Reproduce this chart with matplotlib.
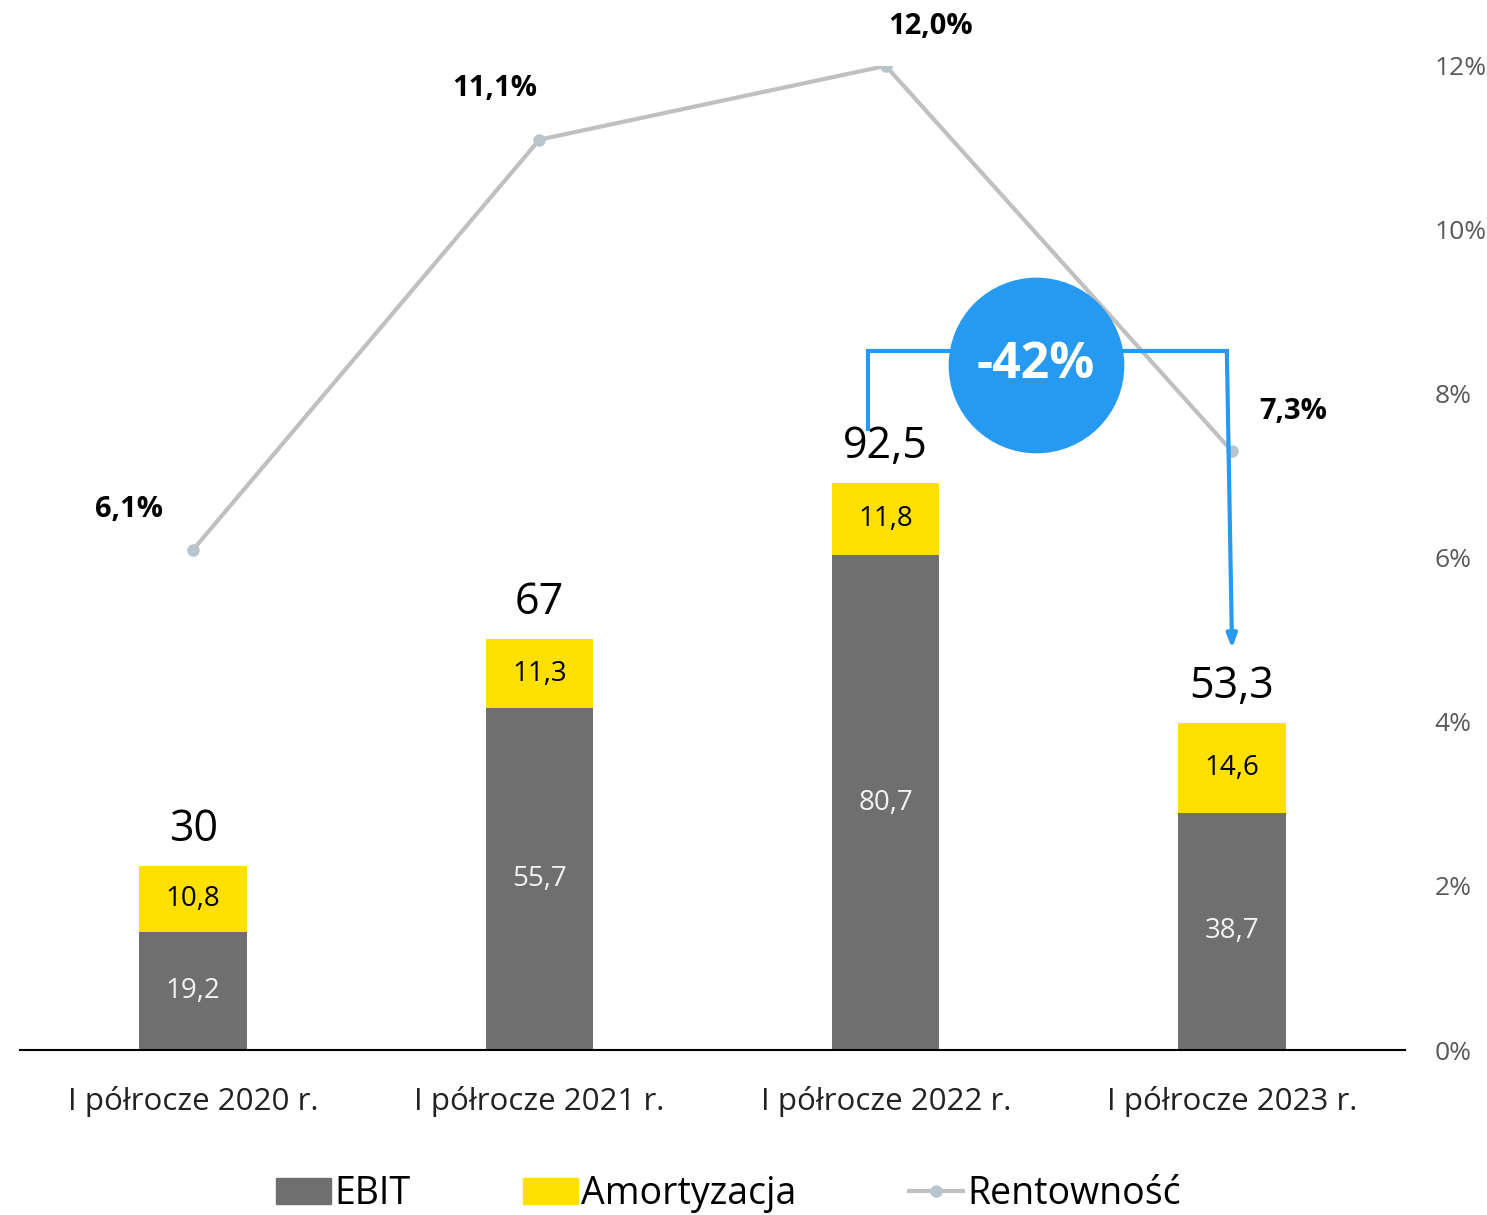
import matplotlib
matplotlib.use("Agg")
import matplotlib.pyplot as plt
from matplotlib.patches import Patch
from matplotlib.lines import Line2D

plt.rcParams['font.family'] = ['Open Sans', 'DejaVu Sans']

# dane
okresy = ["I półrocze 2020 r.", "I półrocze 2021 r.", "I półrocze 2022 r.", "I półrocze 2023 r."]
ebit = [19.2, 55.7, 80.7, 38.7]
amort = [10.8, 11.3, 11.8, 14.6]
suma = [30, 67, 92.5, 53.3]
suma_txt = ["30", "67", "92,5", "53,3"]
rentownosc = [6.1, 11.1, 12.0, 7.3]
rent_txt = ["6,1%", "11,1%", "12,0%", "7,3%"]
zmiana_txt = "-42%"

SZARY = "#6f6f6f"
ZOLTY = "#ffe000"
LINIA = "#c0c0c0"
NIEBIESKI = "#2699f0"

fig = plt.figure(figsize=(14.87, 12.15), dpi=100)
ax = fig.add_axes([0.0134, 0.1358, 0.9316, 0.81])
ax2 = ax.twinx()

x = list(range(len(okresy)))
w = 0.31
ax.bar(x, ebit, width=w, color=SZARY, zorder=2)
ax.bar(x, amort, width=w, bottom=ebit, color=ZOLTY, zorder=2)

for i in x:
    ax.text(i, ebit[i] / 2, f"{ebit[i]:.1f}".replace(".", ","), ha="center", va="center",
            fontsize=20, color="#f2f2f2", zorder=3)
    ax.text(i, ebit[i] + amort[i] / 2, f"{amort[i]:.1f}".replace(".", ","), ha="center",
            va="center", fontsize=20, color="black", zorder=3)
    ax.annotate(suma_txt[i], (i, suma[i]), xytext=(0, 10), textcoords="offset points",
                ha="center", va="bottom", fontsize=31, color="black")

ax.set_xlim(-0.5, 3.5)
ax.set_ylim(0, 160.5)
ax.set_yticks([])
ax.set_xticks(x)
ax.set_xticklabels(okresy, fontsize=22.5, color="#222222")
ax.tick_params(axis="x", length=0, pad=26)
for s in ["top", "right", "left"]:
    ax.spines[s].set_visible(False)
    ax2.spines[s].set_visible(False)
ax2.spines["bottom"].set_visible(False)
ax.spines["bottom"].set_linewidth(1.5)
ax.spines["bottom"].set_color("black")

ax2.plot(x, rentownosc, color=LINIA, lw=3, marker="o", ms=8,
         mfc="#b9c5cc", mec="#b9c5cc", zorder=4)
ax2.set_ylim(0, 12)
ax2.set_yticks([0, 2, 4, 6, 8, 10, 12])
ax2.set_yticklabels([f"{v}%" for v in [0, 2, 4, 6, 8, 10, 12]], fontsize=19, color="#595959")
ax2.tick_params(axis="y", length=0, pad=21)

offs = [(-46, 29), (-32, 37), (32, 28), (44, 29)]
for i in x:
    ax2.annotate(rent_txt[i], (i, rentownosc[i]), xytext=offs[i], textcoords="offset points",
                 ha="center", va="center", fontsize=21, fontweight="bold", color="black")

# strzałka -42%
ax.plot([1.95, 1.95, 2.985], [101.3, 114.0, 114.0], color=NIEBIESKI, lw=3, zorder=5,
        solid_joinstyle="miter")
ax.annotate("", xy=(3.0, 65.5), xytext=(2.985, 114.0),
            arrowprops=dict(arrowstyle="-|>,head_length=0.8,head_width=0.3",
                            color=NIEBIESKI, lw=3, shrinkA=0, shrinkB=0), zorder=5)
ax.scatter([2.434], [111.7], s=16000, color=NIEBIESKI, zorder=6, linewidths=0)
ax.text(2.434, 111.7, zmiana_txt, ha="center", va="center", fontsize=36,
        fontweight="bold", color="white", zorder=7)
ax.set_zorder(ax2.get_zorder() + 1)
ax.patch.set_visible(False)

uchwyty = [Patch(color=SZARY), Patch(color=ZOLTY),
           Line2D([0], [0], color=LINIA, lw=3, marker="o", ms=8, mfc="#b9c5cc", mec="#b9c5cc")]
fig.legend(uchwyty, ["EBIT", "Amortyzacja", "Rentowność"], loc="center", ncol=3,
           bbox_to_anchor=(0.49, 0.017), frameon=False, fontsize=27,
           handlelength=1.45, handletextpad=0.1, columnspacing=3.0)

fig.savefig("out.png", dpi=100)
